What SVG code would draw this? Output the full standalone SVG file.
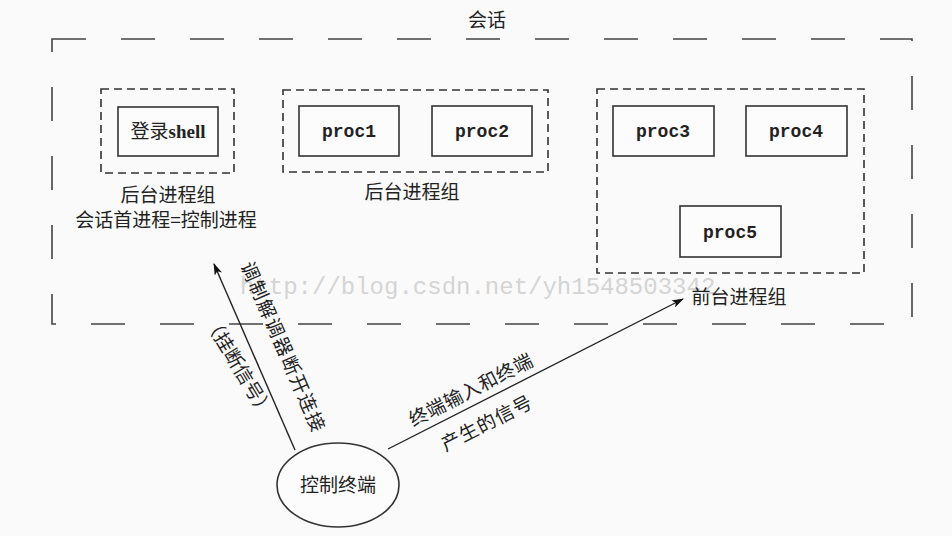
<svg xmlns="http://www.w3.org/2000/svg" width="952" height="536" viewBox="0 0 952 536">
<defs>
<style>
.bg{fill:#fafafa}
.outer{fill:none;stroke:#444;stroke-width:1.6;stroke-dasharray:34 35}
.grp{fill:none;stroke:#333;stroke-width:1.6;stroke-dasharray:8 5}
.box{fill:#fcfcfc;stroke:#333;stroke-width:1.6}
.cn{font-family:"Noto Sans CJK SC","Noto Sans",sans-serif;font-size:19px;fill:#222}
.mono{font-family:"Liberation Mono",monospace;font-size:18px;font-weight:bold;fill:#222}
.wm{font-family:"Liberation Mono",monospace;font-size:24px;fill:#d4d4d4}
.line{stroke:#222;stroke-width:1.4;fill:none}
</style>
<marker id="arr" viewBox="0 0 12 8" refX="11" refY="4" markerWidth="12" markerHeight="8" markerUnits="userSpaceOnUse" orient="auto">
<path d="M0,0 L12,4 L0,8 L3,4 Z" fill="#111"/>
</marker>
</defs>
<rect class="bg" x="0" y="0" width="952" height="536"/>
<text class="cn" x="487" y="27" text-anchor="middle">会话</text>
<rect class="outer" x="52" y="39" width="860" height="285"/>
<text class="wm" x="240" y="294">http://blog.csdn.net/yh1548503342</text>
<g id="bg-group-1">
<rect class="grp" x="101" y="89" width="133" height="84"/>
<g id="login-shell">
<rect class="box" x="118" y="107" width="100" height="49"/>
<text class="cn" x="168" y="138" text-anchor="middle">登录<tspan font-family="Liberation Serif" font-weight="bold">shell</tspan></text>
</g>
<text class="cn" x="168" y="202" text-anchor="middle">后台进程组</text>
<text class="cn" x="166" y="227" text-anchor="middle">会话首进程=控制进程</text>
</g>
<g id="bg-group-2">
<rect class="grp" x="283" y="90" width="265" height="82"/>
<g id="proc1">
<rect class="box" x="299" y="106" width="100" height="50"/>
<text class="mono" x="349" y="137" text-anchor="middle">proc1</text>
</g>
<g id="proc2">
<rect class="box" x="432" y="106" width="100" height="50"/>
<text class="mono" x="482" y="137" text-anchor="middle">proc2</text>
</g>
<text class="cn" x="412" y="199" text-anchor="middle">后台进程组</text>
</g>
<g id="fg-group">
<rect class="grp" x="597" y="89" width="267" height="184"/>
<g id="proc3">
<rect class="box" x="613" y="106" width="101" height="50"/>
<text class="mono" x="663" y="137" text-anchor="middle">proc3</text>
</g>
<g id="proc4">
<rect class="box" x="746" y="106" width="101" height="50"/>
<text class="mono" x="796" y="137" text-anchor="middle">proc4</text>
</g>
<g id="proc5">
<rect class="box" x="680" y="206" width="101" height="51"/>
<text class="mono" x="730" y="238" text-anchor="middle">proc5</text>
</g>
<text class="cn" x="739" y="304" text-anchor="middle">前台进程组</text>
</g>
<g id="terminal">
<ellipse cx="338" cy="485" rx="61" ry="42" fill="#fcfcfc" stroke="#333" stroke-width="1.6"/>
<text class="cn" x="338" y="492" text-anchor="middle">控制终端</text>
</g>
<g id="connectors">
<line class="line" x1="295" y1="450" x2="214" y2="264" marker-end="url(#arr)"/>
<line class="line" x1="388" y1="449" x2="683" y2="299" marker-end="url(#arr)"/>
<text class="cn" transform="translate(277,350) rotate(66.5)" text-anchor="middle" letter-spacing="1.5">调制解调器断开连接</text>
<text class="cn" transform="translate(233,370) rotate(59)" text-anchor="middle">（挂断信号）</text>
<text class="cn" transform="translate(474,396) rotate(-27)" text-anchor="middle" letter-spacing="0.5">终端输入和终端</text>
<text class="cn" transform="translate(490,429) rotate(-27)" text-anchor="middle" letter-spacing="1">产生的信号</text>
</g>
</svg>
